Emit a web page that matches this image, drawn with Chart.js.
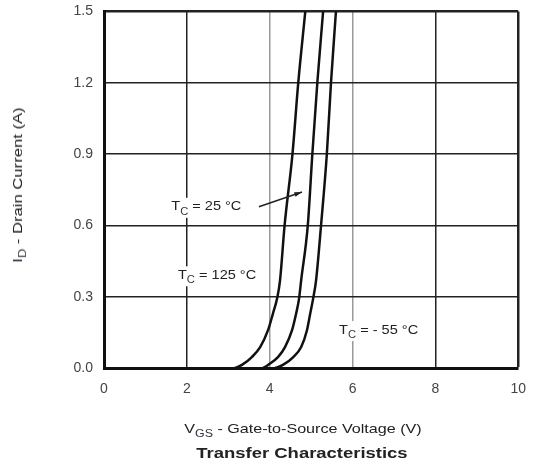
<!DOCTYPE html>
<html><head><meta charset="utf-8">
<script src="https://cdn.jsdelivr.net/npm/chart.js@4/dist/chart.umd.min.js"></script>
<style>
html,body{margin:0;padding:0;background:#fff;overflow:hidden;}
#wrap{position:relative;width:535px;height:472px;overflow:hidden;font-family:"Liberation Sans",Arial,sans-serif;}
canvas{position:absolute;left:0;top:-8px;}
.t{position:absolute;white-space:nowrap;color:#222;}
sub{font-size:10px;vertical-align:-4px;color:#334;}
</style></head><body>
<div id="wrap">
<canvas id="c" width="539" height="480"></canvas>
<div class="t" id="ytitle" style="font-size:13px;left:19px;top:185px;transform:translate(-50%,-50%) rotate(-90deg) scaleX(1.28);">I<sub>D</sub> - Drain Current (A)</div>
<div class="t" style="font-size:13px;left:303px;top:430px;transform:translate(-50%,-50%) scaleX(1.24);">V<sub>GS</sub> - Gate-to-Source Voltage (V)</div>
<div class="t" style="font-size:15px;font-weight:bold;left:302px;top:452px;transform:translate(-50%,-50%) scaleX(1.23);">Transfer Characteristics</div>
</div>
<script>
// Series (VGS in V, ID in A)
const idPts  = [0,    0.013, 0.046, 0.088, 0.159, 0.23, 0.293, 0.369, 0.6,  0.9,  1.2,  1.5];
const vgs125 = [3.16, 3.33,  3.57,  3.77,  3.96,  4.08, 4.18,  4.25,  4.36, 4.55, 4.69, 4.86];
const vgs25  = [3.84, 3.96,  4.20,  4.37,  4.54,  4.64, 4.71,  4.76,  4.92, 5.03, 5.15, 5.29];
const vgsM55 = [4.13, 4.32,  4.57,  4.76,  4.90,  4.98, 5.05,  5.12,  5.24, 5.38, 5.48, 5.6];
const xTicks = [0, 2, 4, 6, 8, 10];
const yTicks = ['0.0','0.3','0.6','0.9','1.2','1.5'];
const seriesLabels = ['T_C = 125 °C','T_C = 25 °C','T_C = - 55 °C'];

const pts = (xs, ys) => xs.map((x, i) => ({x, y: ys[i]}));

// annotation positions in data coordinates
const notes = [
  {pre:'T', sub:'C', post:' = 25 °C', x:2.47, y:0.678},
  {pre:'T', sub:'C', post:' = 125 °C', x:2.73, y:0.39},
  {pre:'T', sub:'C', post:' = - 55 °C', x:6.63, y:0.16}
];
const arrow = {x1:3.74, y1:0.678, x2:4.78, y2:0.74};

const notePlugin = {
  id:'notes',
  afterDatasetsDraw(chart){
    const c = chart.ctx, xs = chart.scales.x, ys = chart.scales.y;
    const sx = 1.12;
    c.save();
    notes.forEach(n => {
      const big = '13px "Liberation Sans", Arial, sans-serif';
      const small = '10px "Liberation Sans", Arial, sans-serif';
      c.font = big; const w1 = c.measureText(n.pre).width; const w3 = c.measureText(n.post).width;
      c.font = small; const w2 = c.measureText(n.sub).width;
      const W = (w1 + w2 + w3) * sx;
      const cx = xs.getPixelForValue(n.x), cy = ys.getPixelForValue(n.y);
      c.fillStyle = '#fff';
      c.fillRect(cx - W/2 - 3, cy - 9, W + 6, 20);
      c.save();
      c.translate(cx - W/2, cy);
      c.scale(sx, 1);
      let x = 0;
      c.textBaseline = 'middle';
      c.fillStyle = '#222';
      c.font = big; c.fillText(n.pre, x, 0); x += w1;
      c.font = small; c.fillStyle = '#334'; c.fillText(n.sub, x, 5); x += w2;
      c.font = big; c.fillStyle = '#222'; c.fillText(n.post, x, 0);
      c.restore();
    });
    const ax1 = xs.getPixelForValue(arrow.x1), ay1 = ys.getPixelForValue(arrow.y1);
    const ax2 = xs.getPixelForValue(arrow.x2), ay2 = ys.getPixelForValue(arrow.y2);
    c.strokeStyle = '#222'; c.lineWidth = 1.5;
    c.beginPath(); c.moveTo(ax1, ay1); c.lineTo(ax2, ay2); c.stroke();
    const ang = Math.atan2(ay2 - ay1, ax2 - ax1);
    c.beginPath();
    c.moveTo(ax2, ay2);
    c.lineTo(ax2 - 8*Math.cos(ang - 0.3), ay2 - 8*Math.sin(ang - 0.3));
    c.lineTo(ax2 - 8*Math.cos(ang + 0.3), ay2 - 8*Math.sin(ang + 0.3));
    c.closePath(); c.fillStyle = '#222'; c.fill();
    c.restore();
  }
};

const ds = (label, data) => ({
  label, data, borderColor:'#111', borderWidth:2.5, pointRadius:0,
  cubicInterpolationMode:'monotone', fill:false
});

new Chart(document.getElementById('c'), {
  type:'line',
  data:{datasets:[ds(seriesLabels[0], pts(vgs125, idPts)), ds(seriesLabels[1], pts(vgs25, idPts)), ds(seriesLabels[2], pts(vgsM55, idPts))]},
  options:{
    responsive:false, animation:false,
    layout:{padding:{left:0, top:2, right:13, bottom:0}},
    plugins:{legend:{display:false}, tooltip:{enabled:false}},
    scales:{
      x:{type:'linear', min:0, max:10,
        afterBuildTicks: s => { s.ticks = xTicks.map(v => ({value:v})); },
        afterFit: s => { s.height = 104; },
        grid:{drawTicks:false,
          color: c => (c.tick && (c.tick.value === 4 || c.tick.value === 6)) ? '#9a9a9a' : '#222',
          lineWidth: c => (c.tick && c.tick.value === 10) ? 2.5 : 1.5},
        border:{display:true, color:'#111', width:3},
        ticks:{padding:13, color:'#444', font:{family:'"Liberation Sans", Arial, sans-serif', size:14}}
      },
      y:{type:'linear', min:0, max:1.5,
        afterBuildTicks: s => { s.ticks = yTicks.map(v => ({value:parseFloat(v)})); },
        afterFit: s => { s.width = 104; },
        grid:{drawTicks:false, color:'#222',
          lineWidth: c => (c.tick && c.tick.value === 1.5) ? 2.5 : 1.5},
        border:{display:true, color:'#111', width:3},
        ticks:{padding:11, color:'#444', font:{family:'"Liberation Sans", Arial, sans-serif', size:14},
          callback: (v, i) => yTicks[i]}
      }
    }
  },
  plugins:[notePlugin]
});
</script>
</body></html>
